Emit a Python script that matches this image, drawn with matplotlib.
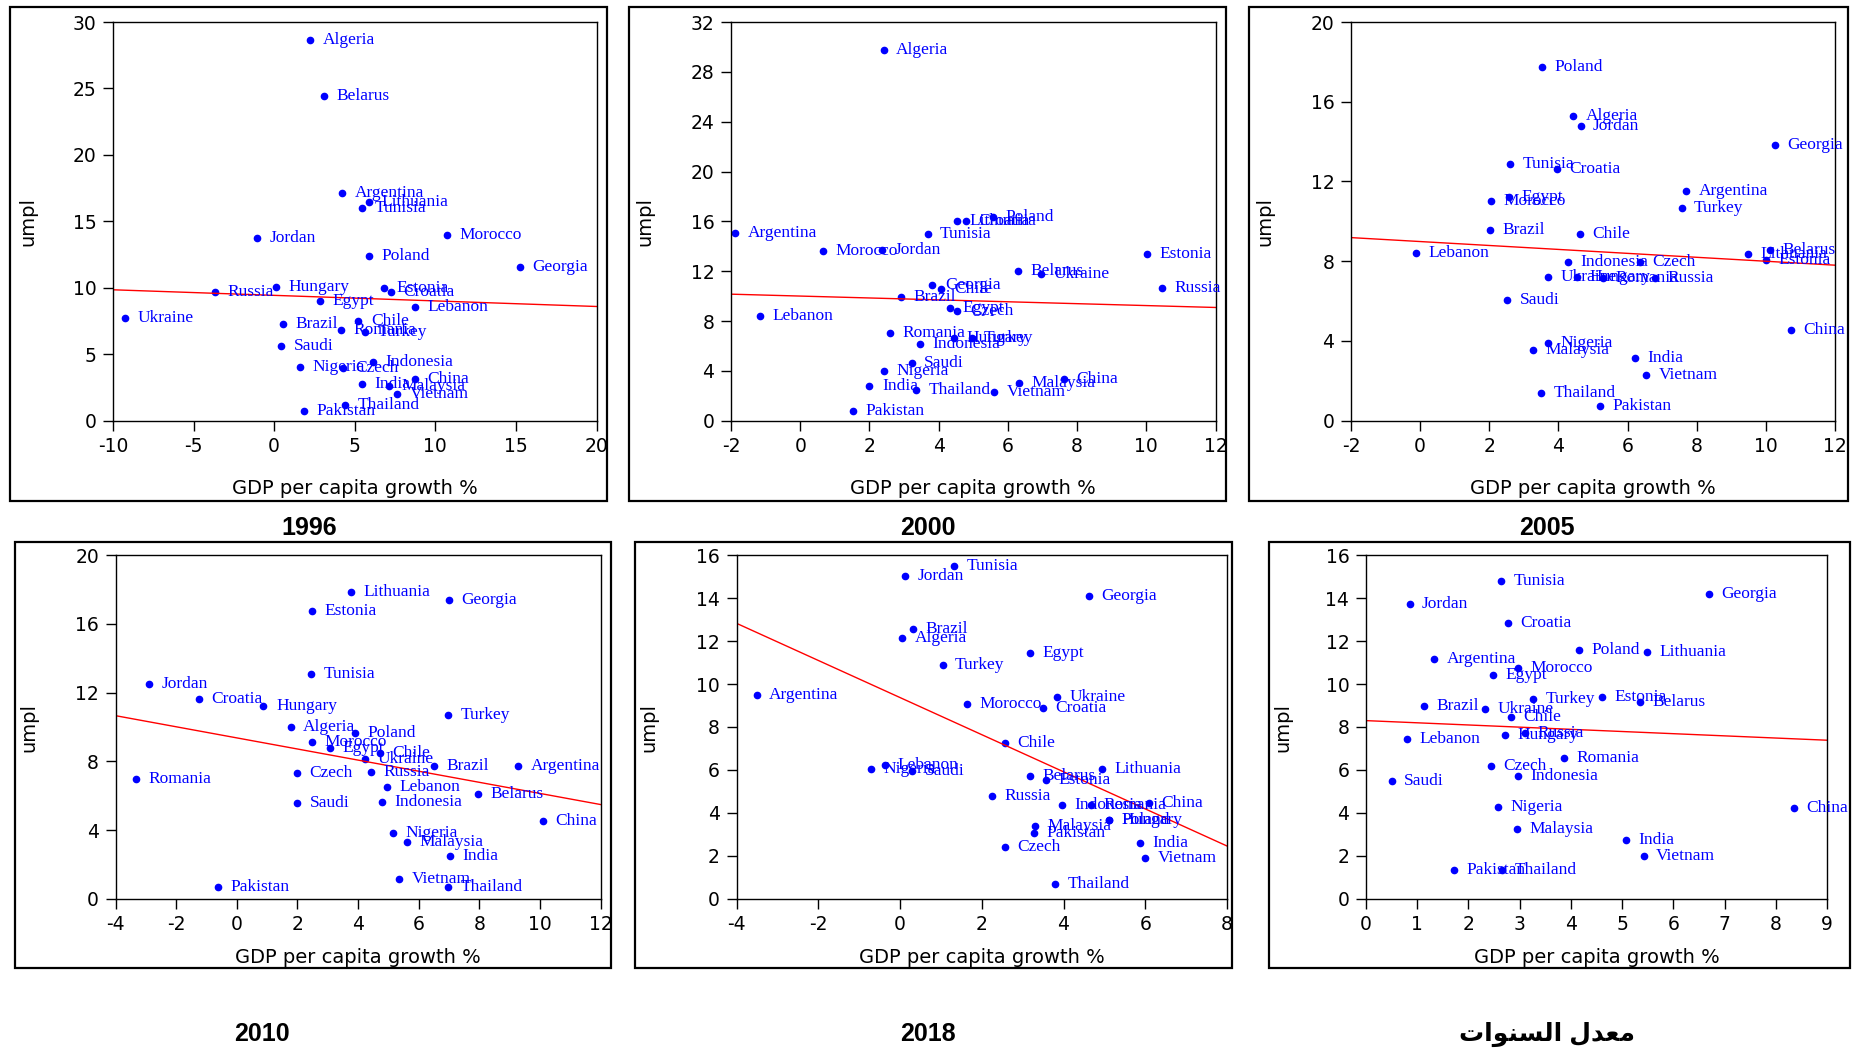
import numpy as np
import matplotlib.pyplot as plt
from matplotlib.patches import Rectangle

W, H = 1852, 1053

# ---- data (GDP per capita growth %, unemployment %) ----
names_1996 = ["Algeria", "Belarus", "Argentina", "Lithuania", "Tunisia", "Jordan", "Morocco",
              "Poland", "Georgia", "Russia", "Hungary", "Estonia", "Croatia", "Egypt", "Lebanon",
              "Ukraine", "Brazil", "Chile", "Romania", "Turkey", "Saudi", "Indonesia", "Nigeria",
              "Czech", "China", "India", "Malaysia", "Vietnam", "Thailand", "Pakistan"]
gdp_1996 = [2.24, 3.09, 4.21, 5.87, 5.44, -1.05, 10.70, 5.91, 15.24, -3.65, 0.13, 6.84, 7.26, 2.86,
            8.71, -9.24, 0.54, 5.23, 4.16, 5.63, 0.44, 6.15, 1.58, 4.26, 8.73, 5.46, 7.14, 7.62,
            4.42, 1.84]
umpl_1996 = [28.62, 24.40, 17.13, 16.43, 16.03, 13.72, 14.00, 12.39, 11.54, 9.71, 10.06, 9.96,
             9.71, 9.03, 8.53, 7.70, 7.30, 7.47, 6.80, 6.67, 5.64, 4.41, 4.01, 3.99, 3.16, 2.73,
             2.58, 1.98, 1.15, 0.75]

names_2000 = ["Algeria", "Argentina", "Morocco", "Jordan", "Tunisia", "Lithuania", "Croatia",
              "Poland", "Estonia", "Belarus", "Ukraine", "Russia", "Georgia", "Chile", "Brazil",
              "Egypt", "Czech", "Lebanon", "Romania", "Hungary", "Turkey", "Indonesia", "Saudi",
              "Nigeria", "India", "Thailand", "Vietnam", "Malaysia", "China", "Pakistan"]
gdp_2000 = [2.41, -1.88, 0.66, 2.36, 3.68, 4.53, 4.79, 5.58, 10.01, 6.28, 6.95, 10.44, 3.82, 4.08,
            2.90, 4.32, 4.54, -1.17, 2.59, 4.45, 4.95, 3.46, 3.22, 2.41, 2.00, 3.36, 5.61, 6.33,
            7.61, 1.52]
umpl_2000 = [29.78, 15.04, 13.62, 13.73, 14.96, 16.03, 16.05, 16.35, 13.40, 11.99, 11.77, 10.62,
             10.86, 10.54, 9.95, 9.02, 8.80, 8.43, 7.01, 6.64, 6.62, 6.13, 4.63, 4.01, 2.81, 2.46,
             2.33, 3.05, 3.37, 0.80]

names_2005 = ["Poland", "Algeria", "Jordan", "Georgia", "Tunisia", "Croatia", "Argentina", "Egypt",
              "Morocco", "Turkey", "Brazil", "Chile", "Lebanon", "Lithuania", "Belarus", "Estonia",
              "Indonesia", "Czech", "Ukraine", "Hungary", "Romania", "Russia", "Saudi", "China",
              "Nigeria", "Malaysia", "India", "Vietnam", "Thailand", "Pakistan"]
gdp_2005 = [3.52, 4.42, 4.64, 10.26, 2.61, 3.95, 7.70, 2.57, 2.06, 7.56, 2.01, 4.63, -0.11, 9.47,
            10.13, 9.99, 4.27, 6.36, 3.70, 4.55, 5.28, 6.78, 2.52, 10.72, 3.69, 3.26, 6.21, 6.54,
            3.50, 5.20]
umpl_2005 = [17.74, 15.27, 14.80, 13.81, 12.88, 12.63, 11.52, 11.20, 11.04, 10.65, 9.58, 9.35,
             8.41, 8.34, 8.55, 8.06, 7.96, 7.96, 7.19, 7.19, 7.17, 7.14, 6.07, 4.53, 3.88, 3.56,
             3.14, 2.27, 1.39, 0.72]

names_2010 = ["Lithuania", "Georgia", "Estonia", "Tunisia", "Jordan", "Croatia", "Hungary",
              "Turkey", "Algeria", "Poland", "Morocco", "Egypt", "Chile", "Ukraine", "Brazil",
              "Argentina", "Romania", "Czech", "Russia", "Lebanon", "Belarus", "Saudi", "Indonesia",
              "China", "Nigeria", "Malaysia", "India", "Vietnam", "Thailand", "Pakistan"]
gdp_2010 = [3.77, 7.00, 2.49, 2.44, -2.89, -1.25, 0.88, 6.96, 1.78, 3.89, 2.49, 3.06, 4.72, 4.23,
            6.51, 9.29, -3.34, 1.97, 4.44, 4.97, 7.96, 1.99, 4.80, 10.09, 5.15, 5.60, 7.02, 5.35,
            6.96, -0.61]
umpl_2010 = [17.84, 17.42, 16.74, 13.07, 12.52, 11.65, 11.20, 10.70, 9.98, 9.67, 9.13, 8.78, 8.47,
             8.14, 7.75, 7.75, 6.99, 7.30, 7.40, 6.49, 6.10, 5.57, 5.63, 4.52, 3.81, 3.28, 2.49,
             1.15, 0.66, 0.70]

names_2018 = ["Tunisia", "Jordan", "Georgia", "Brazil", "Algeria", "Egypt", "Turkey", "Argentina",
              "Ukraine", "Morocco", "Croatia", "Chile", "Lebanon", "Nigeria", "Saudi", "Lithuania",
              "Belarus", "Estonia", "Russia", "Indonesia", "Romania", "China", "Poland", "Hungary",
              "Malaysia", "Pakistan", "Czech", "India", "Vietnam", "Thailand"]
gdp_2018 = [1.33, 0.12, 4.62, 0.32, 0.05, 3.19, 1.04, -3.51, 3.84, 1.63, 3.50, 2.57, -0.36, -0.71,
            0.30, 4.93, 3.19, 3.58, 2.24, 3.97, 4.68, 6.08, 5.12, 5.12, 3.31, 3.27, 2.57, 5.87,
            6.00, 3.79]
umpl_2018 = [15.49, 15.04, 14.12, 12.55, 12.16, 11.43, 10.90, 9.49, 9.38, 9.06, 8.87, 7.24, 6.22,
             6.03, 5.97, 6.03, 5.73, 5.53, 4.77, 4.35, 4.36, 4.45, 3.68, 3.66, 3.37, 3.06, 2.42,
             2.58, 1.91, 0.70]

names_avg = ["Tunisia", "Georgia", "Jordan", "Croatia", "Poland", "Lithuania", "Argentina",
             "Morocco", "Egypt", "Turkey", "Estonia", "Belarus", "Brazil", "Ukraine", "Chile",
             "Russia", "Hungary", "Lebanon", "Romania", "Czech", "Indonesia", "Saudi", "Nigeria",
             "China", "Malaysia", "India", "Vietnam", "Pakistan", "Thailand"]
gdp_avg = [2.63, 6.69, 0.85, 2.77, 4.15, 5.48, 1.33, 2.96, 2.47, 3.26, 4.61, 5.34, 1.14, 2.33,
           2.83, 3.10, 2.71, 0.80, 3.87, 2.44, 2.97, 0.50, 2.57, 8.35, 2.95, 5.07, 5.42, 1.72, 2.65]
umpl_avg = [14.82, 14.21, 13.75, 12.86, 11.59, 11.50, 11.15, 10.77, 10.41, 9.32, 9.41, 9.15, 8.99,
            8.84, 8.45, 7.72, 7.65, 7.43, 6.57, 6.18, 5.73, 5.47, 4.26, 4.23, 3.26, 2.73, 1.97,
            1.35, 1.32]

# "معدل السنوات" written in shaped presentation forms, visual order
title_avg = "\uFE95\uFE8D\uFEEE\uFEE8\uFEB4\uFEDF\uFE8D \uFEDD\uFEAA\uFECC\uFEE3"

plt.rcParams['font.family'] = ['DejaVu Sans']
plt.rcParams['axes.unicode_minus'] = False

fig = plt.figure(figsize=(W / 100, H / 100), dpi=100)


def frac(x0, y0, x1, y1):
    # pixel box (top-left origin) -> figure fraction [l, b, w, h]
    return [x0 / W, 1 - y1 / H, (x1 - x0) / W, (y1 - y0) / H]


def panel(box, frame, names, gx, uy, xlim, xticks, ylim, yticks, title, title_xy, ylab_off):
    ax = fig.add_axes(frac(*box))
    gx = np.array(gx)
    uy = np.array(uy)
    ax.plot(gx, uy, 'o', color='#0000FF', markersize=4.5, clip_on=False)
    for n, x, y in zip(names, gx, uy):
        ax.annotate(n, (x, y), xytext=(9, 0), textcoords='offset points', va='center',
                    ha='left', color='#0000FF', fontsize=12.5, family='Liberation Serif',
                    annotation_clip=False)
    # regression line
    k, b = np.polyfit(gx, uy, 1)
    xs = np.array(xlim, dtype=float)
    ax.plot(xs, k * xs + b, color='#FF0000', lw=1)
    ax.set_xlim(xlim)
    ax.set_ylim(ylim)
    ax.set_xticks(xticks)
    ax.set_yticks(yticks)
    ax.tick_params(direction='out', length=7, width=1, labelsize=13.5, pad=5)
    for s in ax.spines.values():
        s.set_linewidth(1)
    ax.text(0.5, -0.17, "GDP per capita growth %", transform=ax.transAxes, ha='center',
            va='center', fontsize=14)
    ax.text(ylab_off, 0.5, "umpl", transform=ax.transAxes, ha='center', va='center',
            rotation=90, fontsize=14)
    l, t, r, btm = frame
    fig.patches.append(Rectangle((l / W, 1 - btm / H), (r - l) / W, (btm - t) / H,
                                 transform=fig.transFigure, fill=False, lw=1.6, ec='black'))
    fig.text(title_xy[0] / W, 1 - title_xy[1] / H, title, ha='center', va='center',
             fontsize=18, fontweight='bold', family=['Liberation Sans', 'DejaVu Sans'])
    return ax


panel((113, 22, 596.5, 420.7), (10, 7, 607, 501), names_1996, gdp_1996, umpl_1996,
      (-10, 20), range(-10, 21, 5), (0, 30), range(0, 31, 5), "1996", (309, 528), -0.177)
panel((731, 22, 1215.5, 420.7), (629, 7, 1226, 501), names_2000, gdp_2000, umpl_2000,
      (-2, 12), range(-2, 13, 2), (0, 32), range(0, 33, 4), "2000", (928, 528), -0.177)
panel((1351, 22, 1835, 420.7), (1249, 7, 1848, 501), names_2005, gdp_2005, umpl_2005,
      (-2, 12), range(-2, 13, 2), (0, 20), range(0, 21, 4), "2005", (1547, 528), -0.177)
panel((115.6, 555.3, 600.5, 898.7), (15, 542, 611, 968), names_2010, gdp_2010, umpl_2010,
      (-4, 12), range(-4, 13, 2), (0, 20), range(0, 21, 4), "2010", (262, 1034), -0.179)
panel((736.6, 555.3, 1227, 898.7), (635, 542, 1232, 968), names_2018, gdp_2018, umpl_2018,
      (-4, 8), range(-4, 9, 2), (0, 16), range(0, 17, 2), "2018", (928, 1034), -0.179)
panel((1366, 555.3, 1827, 898.7), (1269, 542, 1850, 968), names_avg, gdp_avg, umpl_avg,
      (0, 9), range(0, 10, 1), (0, 16), range(0, 17, 2), title_avg, (1547, 1034), -0.18)

fig.savefig("out.png", dpi=100)
